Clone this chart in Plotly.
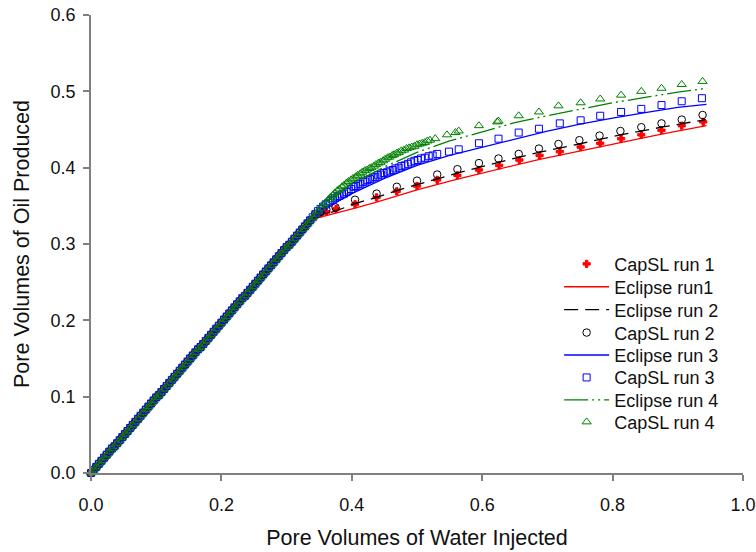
import plotly.graph_objects as go

# ---- data: pore volumes of water injected (PVI) vs pore volumes of oil produced ----
# pre-breakthrough portion shared by all CapSL runs
early_pvi = [0.000, 0.004, 0.008, 0.012, 0.016, 0.020, 0.024, 0.028, 0.032, 0.036,
             0.040, 0.044, 0.048, 0.052, 0.056, 0.060, 0.064, 0.068, 0.072, 0.076,
             0.080, 0.084, 0.088, 0.092, 0.096, 0.100, 0.104, 0.108, 0.112, 0.116,
             0.120, 0.124, 0.128, 0.132, 0.136, 0.140, 0.144, 0.148, 0.152, 0.156,
             0.160, 0.164, 0.168, 0.172, 0.176, 0.180, 0.184, 0.188, 0.192, 0.196,
             0.200, 0.204, 0.208, 0.212, 0.216, 0.220, 0.224, 0.228, 0.232, 0.236,
             0.240, 0.244, 0.248, 0.252, 0.256, 0.260, 0.264, 0.268, 0.272, 0.276,
             0.280, 0.284, 0.288, 0.292, 0.296, 0.300, 0.304, 0.308, 0.312, 0.316,
             0.320, 0.324, 0.328, 0.332, 0.336]
early_oil = [0.000, 0.004, 0.008, 0.012, 0.016, 0.020, 0.024, 0.028, 0.032, 0.035,
             0.039, 0.043, 0.047, 0.051, 0.055, 0.059, 0.063, 0.067, 0.071, 0.075,
             0.079, 0.083, 0.087, 0.091, 0.095, 0.099, 0.102, 0.106, 0.110, 0.114,
             0.118, 0.122, 0.126, 0.130, 0.134, 0.138, 0.142, 0.146, 0.150, 0.154,
             0.158, 0.162, 0.165, 0.169, 0.173, 0.177, 0.181, 0.185, 0.189, 0.193,
             0.197, 0.201, 0.205, 0.209, 0.213, 0.217, 0.221, 0.225, 0.229, 0.232,
             0.236, 0.240, 0.244, 0.248, 0.252, 0.256, 0.260, 0.264, 0.268, 0.272,
             0.276, 0.280, 0.284, 0.288, 0.292, 0.296, 0.299, 0.303, 0.307, 0.311,
             0.315, 0.319, 0.323, 0.327, 0.331]

# CapSL run 1
capsl1_pvi = [0.344, 0.352, 0.361, 0.376, 0.405, 0.438, 0.469, 0.500, 0.531, 0.562, 0.595,
              0.626, 0.657, 0.688, 0.719, 0.751, 0.781, 0.813, 0.844, 0.875, 0.906, 0.939]
capsl1_oil = [0.337, 0.340, 0.342, 0.346, 0.352, 0.361, 0.369, 0.376, 0.384, 0.390, 0.397,
              0.403, 0.410, 0.416, 0.421, 0.427, 0.432, 0.438, 0.443, 0.449, 0.455, 0.460]

# CapSL run 2
capsl2_pvi = [0.344, 0.352, 0.361, 0.375, 0.405, 0.438, 0.469, 0.500, 0.531, 0.562, 0.595,
              0.625, 0.656, 0.687, 0.717, 0.749, 0.780, 0.812, 0.844, 0.875, 0.906, 0.938]
capsl2_oil = [0.339, 0.342, 0.345, 0.348, 0.358, 0.366, 0.375, 0.383, 0.391, 0.398, 0.406,
              0.412, 0.418, 0.425, 0.431, 0.436, 0.442, 0.448, 0.453, 0.458, 0.463, 0.469]

# CapSL run 3
capsl3_pvi = [0.340, 0.344, 0.348, 0.352, 0.356, 0.360, 0.364, 0.367, 0.371, 0.374, 0.378,
              0.381, 0.385, 0.388, 0.392, 0.395, 0.399, 0.403, 0.406, 0.410, 0.413, 0.417,
              0.420, 0.424, 0.428, 0.432, 0.436, 0.440, 0.445, 0.449, 0.454, 0.458, 0.463,
              0.467, 0.472, 0.476, 0.481, 0.486, 0.491, 0.496, 0.501, 0.506, 0.512, 0.518,
              0.524, 0.531, 0.549, 0.564, 0.595, 0.625, 0.656, 0.687, 0.719, 0.751, 0.781,
              0.813, 0.844, 0.875, 0.906, 0.937]
capsl3_oil = [0.335, 0.339, 0.343, 0.346, 0.349, 0.352, 0.354, 0.356, 0.358, 0.360, 0.362,
              0.363, 0.365, 0.366, 0.368, 0.370, 0.372, 0.375, 0.376, 0.378, 0.379, 0.381,
              0.382, 0.384, 0.385, 0.387, 0.388, 0.390, 0.391, 0.393, 0.394, 0.396, 0.397,
              0.399, 0.400, 0.402, 0.403, 0.405, 0.407, 0.409, 0.410, 0.412, 0.413, 0.415,
              0.416, 0.418, 0.421, 0.424, 0.432, 0.438, 0.446, 0.451, 0.458, 0.462, 0.468,
              0.473, 0.477, 0.482, 0.487, 0.491]

# CapSL run 4
capsl4_pvi = [0.340, 0.344, 0.348, 0.352, 0.356, 0.360, 0.364, 0.367, 0.371, 0.374, 0.378,
              0.381, 0.385, 0.388, 0.392, 0.395, 0.399, 0.402, 0.406, 0.409, 0.413, 0.416,
              0.420, 0.423, 0.427, 0.430, 0.434, 0.437, 0.441, 0.444, 0.448, 0.451, 0.455,
              0.458, 0.462, 0.465, 0.469, 0.472, 0.476, 0.480, 0.484, 0.488, 0.492, 0.496,
              0.500, 0.504, 0.508, 0.512, 0.516, 0.520, 0.528, 0.546, 0.559, 0.564, 0.595,
              0.623, 0.625, 0.656, 0.687, 0.717, 0.751, 0.781, 0.813, 0.844, 0.875, 0.906,
              0.938]
capsl4_oil = [0.335, 0.339, 0.343, 0.347, 0.351, 0.354, 0.358, 0.361, 0.364, 0.367, 0.370,
              0.372, 0.375, 0.377, 0.380, 0.382, 0.384, 0.386, 0.388, 0.390, 0.392, 0.394,
              0.396, 0.397, 0.399, 0.400, 0.402, 0.404, 0.406, 0.407, 0.409, 0.411, 0.413,
              0.414, 0.416, 0.417, 0.419, 0.420, 0.422, 0.423, 0.425, 0.426, 0.427, 0.428,
              0.430, 0.431, 0.432, 0.433, 0.435, 0.436, 0.438, 0.443, 0.446, 0.448, 0.455,
              0.460, 0.461, 0.468, 0.473, 0.481, 0.485, 0.490, 0.495, 0.500, 0.504, 0.509,
              0.513]

# Eclipse simulations
ecl1_pvi = [0.0, 0.336, 0.346, 0.360, 0.376, 0.405, 0.438, 0.469, 0.500, 0.562, 0.626,
            0.688, 0.751, 0.813, 0.875, 0.944]
ecl1_oil = [0.0, 0.331, 0.334, 0.337, 0.341, 0.347, 0.355, 0.363, 0.371, 0.385, 0.398,
            0.411, 0.422, 0.433, 0.444, 0.455]

ecl2_pvi = [0.0, 0.336, 0.346, 0.360, 0.375, 0.405, 0.438, 0.469, 0.500, 0.562, 0.625,
            0.687, 0.749, 0.812, 0.875, 0.943]
ecl2_oil = [0.0, 0.331, 0.336, 0.339, 0.343, 0.353, 0.361, 0.370, 0.378, 0.393, 0.407,
            0.420, 0.431, 0.443, 0.453, 0.463]

ecl3_pvi = [0.0, 0.336, 0.350, 0.360, 0.375, 0.400, 0.450, 0.500, 0.550, 0.600, 0.650,
            0.700, 0.750, 0.800, 0.850, 0.900, 0.944]
ecl3_oil = [0.0, 0.331, 0.343, 0.348, 0.354, 0.366, 0.386, 0.403, 0.416, 0.427, 0.438,
            0.448, 0.457, 0.465, 0.472, 0.479, 0.483]

ecl4_pvi = [0.0, 0.336, 0.350, 0.365, 0.375, 0.400, 0.450, 0.500, 0.550, 0.600, 0.650,
            0.700, 0.750, 0.800, 0.850, 0.900, 0.944]
ecl4_oil = [0.0, 0.331, 0.345, 0.358, 0.364, 0.378, 0.401, 0.420, 0.435, 0.447, 0.459,
            0.468, 0.477, 0.485, 0.492, 0.499, 0.504]

x_ticks = [0.0, 0.2, 0.4, 0.6, 0.8, 1.0]
y_ticks = [0.0, 0.1, 0.2, 0.3, 0.4, 0.5, 0.6]

RED, BLACK, BLUE, GREEN = "#ff0000", "#000000", "#0000ff", "#008000"
FONT = "Liberation Sans, Arial, sans-serif"
TEXT = "#111111"

# each legend entry gets its own legend box so the rows sit closely together
LEGEND_X = 0.718
LEGEND_ROWS = [0.456, 0.406, 0.356, 0.306, 0.257, 0.208, 0.159, 0.111]

fig = go.Figure()
_slot = [0]


def next_legend():
    i = _slot[0]
    _slot[0] += 1
    return "legend" if i == 0 else f"legend{i + 1}"


def capsl(name, pvi, oil, symbol, color, size):
    fig.add_trace(go.Scatter(
        x=early_pvi + pvi, y=early_oil + oil, mode="markers", name=name,
        cliponaxis=False, legend=next_legend(),
        marker=dict(symbol=symbol, color=color, size=size, line=dict(width=1, color=color)),
    ))


def eclipse(name, pvi, oil, color, dash):
    fig.add_trace(go.Scatter(
        x=pvi, y=oil, mode="lines", name=name, legend=next_legend(),
        line=dict(color=color, width=1.3, dash=dash),
    ))


capsl("CapSL run 1", capsl1_pvi, capsl1_oil, "cross", RED, 6)
eclipse("Eclipse run1", ecl1_pvi, ecl1_oil, RED, "solid")
eclipse("Eclipse run 2", ecl2_pvi, ecl2_oil, BLACK, "14px,7px")
capsl("CapSL run 2", capsl2_pvi, capsl2_oil, "circle-open", BLACK, 7.5)
eclipse("Eclipse run 3", ecl3_pvi, ecl3_oil, BLUE, "solid")
capsl("CapSL run 3", capsl3_pvi, capsl3_oil, "square-open", BLUE, 7)
eclipse("Eclipse run 4", ecl4_pvi, ecl4_oil, GREEN, "24px,4px,2px,4px,2px,4px")
capsl("CapSL run 4", capsl4_pvi, capsl4_oil, "triangle-up-open", GREEN, 8)

legend_style = dict(
    xanchor="left", yanchor="middle", bgcolor="rgba(0,0,0,0)", itemwidth=45,
    font=dict(family=FONT, size=18, color=TEXT),
)
legends = {}
for i, row_y in enumerate(LEGEND_ROWS):
    key = "legend" if i == 0 else f"legend{i + 1}"
    legends[key] = dict(x=LEGEND_X, y=row_y, **legend_style)

axis_common = dict(
    showline=True, linecolor="#808080", linewidth=1.5,
    ticks="outside", ticklen=6, tickcolor="#808080", tickwidth=1.5,
    showgrid=False, zeroline=False, automargin=False,
    tickfont=dict(family=FONT, size=18, color=TEXT),
    tickformat=".1f",
)

fig.update_layout(
    width=756, height=552,
    margin=dict(l=91, r=13, t=15, b=79, autoexpand=False),
    paper_bgcolor="white", plot_bgcolor="white",
    font=dict(family=FONT, color=TEXT),
    showlegend=True,
    **legends,
    xaxis=dict(
        range=[0, 1.0], tickvals=x_ticks, ticklabelstandoff=9,
        title=dict(text="Pore Volumes of Water Injected",
                   font=dict(family=FONT, size=21.5, color=TEXT), standoff=16),
        **axis_common,
    ),
    yaxis=dict(
        range=[0, 0.6], tickvals=y_ticks, ticklabelstandoff=4,
        title=dict(text="Pore Volumes of Oil Produced",
                   font=dict(family=FONT, size=21.5, color=TEXT), standoff=15),
        **axis_common,
    ),
)

fig.write_html("out.html")
